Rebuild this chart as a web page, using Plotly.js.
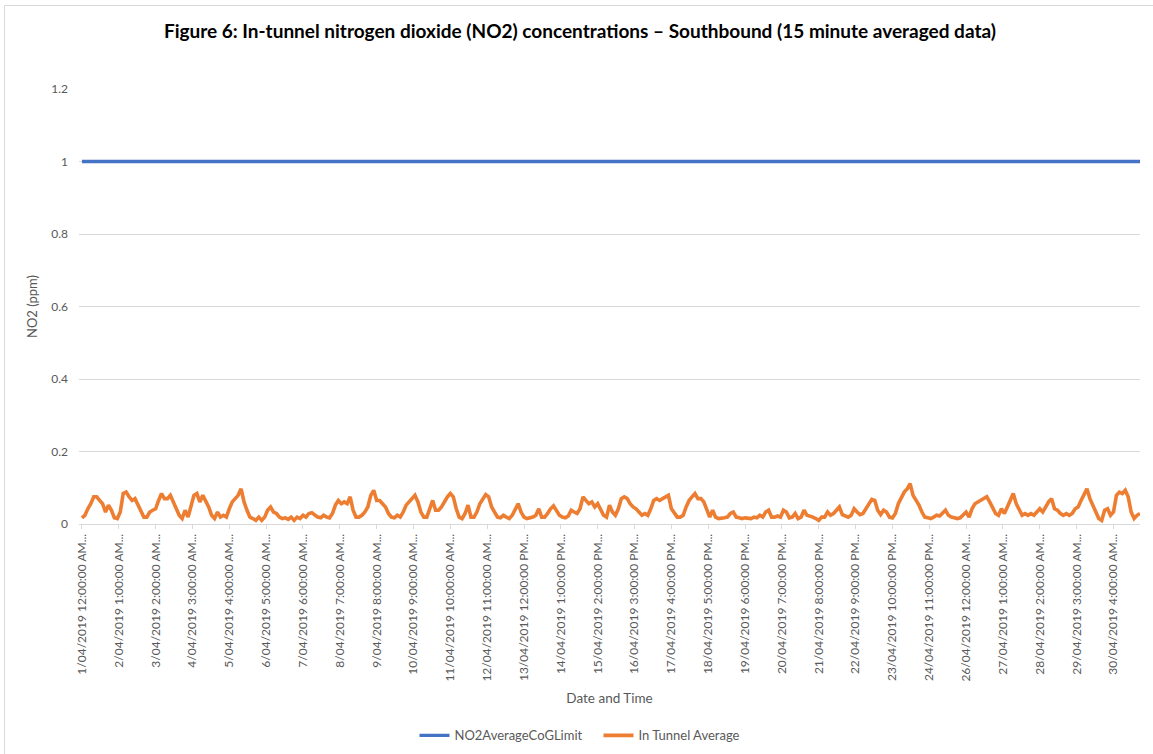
<!DOCTYPE html>
<html>
<head>
<meta charset="utf-8">
<script src="https://cdn.plot.ly/plotly-3.0.1.min.js"></script>
<style>
  html, body { margin: 0; padding: 0; background: #ffffff; }
  #wrap { position: relative; width: 1153px; height: 754px; overflow: hidden; }
  #frame { position: absolute; left: 4px; top: 5px; width: 1160px; height: 760px;
           border-left: 1px solid #d9d9d9; border-top: 1px solid #d9d9d9; pointer-events: none; z-index: 5; }
  #chart { position: absolute; left: 0; top: 0; width: 1153px; height: 754px; }
</style>
</head>
<body>
<div id="wrap">
  <div id="chart"></div>
  <div id="frame"></div>
</div>
<script>
// ---- Data (2-hourly samples) ----
const stepHours = 2;
const limitValue = 1;

const day01 = [0.017,0.024,0.042,0.056,0.075,0.075,0.065,0.056,0.033,0.052,0.038,0.017];
const day02 = [0.015,0.033,0.084,0.088,0.075,0.065,0.070,0.052,0.038,0.019,0.019,0.033];
const day03 = [0.038,0.042,0.065,0.084,0.070,0.070,0.079,0.061,0.042,0.024,0.015,0.038];
const day04 = [0.019,0.047,0.079,0.084,0.061,0.079,0.065,0.047,0.024,0.015,0.033,0.019];
const day05 = [0.024,0.019,0.042,0.061,0.070,0.079,0.097,0.061,0.038,0.019,0.015,0.010];
const day06 = [0.019,0.010,0.019,0.038,0.047,0.033,0.029,0.019,0.015,0.017,0.013,0.019];
const day07 = [0.010,0.019,0.015,0.024,0.019,0.029,0.031,0.026,0.019,0.017,0.024,0.019];
const day08 = [0.017,0.029,0.052,0.065,0.056,0.061,0.056,0.075,0.038,0.019,0.019,0.024];
const day09 = [0.033,0.047,0.079,0.093,0.065,0.065,0.056,0.047,0.029,0.019,0.017,0.024];
const day10 = [0.019,0.033,0.052,0.061,0.070,0.079,0.061,0.033,0.019,0.019,0.042,0.065];
const day11 = [0.038,0.038,0.047,0.061,0.075,0.084,0.075,0.042,0.019,0.015,0.029,0.052];
const day12 = [0.019,0.019,0.033,0.056,0.070,0.081,0.075,0.047,0.033,0.019,0.017,0.024];
const day13 = [0.019,0.015,0.024,0.038,0.056,0.033,0.019,0.015,0.017,0.019,0.024,0.042];
const day14 = [0.019,0.019,0.029,0.042,0.050,0.038,0.024,0.019,0.017,0.022,0.038,0.033];
const day15 = [0.029,0.042,0.075,0.065,0.056,0.061,0.047,0.056,0.042,0.024,0.019,0.052];
const day16 = [0.033,0.024,0.042,0.070,0.075,0.070,0.056,0.047,0.042,0.033,0.024,0.029];
const day17 = [0.024,0.042,0.065,0.070,0.065,0.070,0.075,0.079,0.042,0.029,0.019,0.019];
const day18 = [0.024,0.047,0.065,0.075,0.084,0.070,0.070,0.061,0.038,0.019,0.038,0.019];
const day19 = [0.015,0.015,0.017,0.019,0.029,0.033,0.019,0.017,0.015,0.017,0.017,0.015];
const day20 = [0.019,0.017,0.024,0.019,0.033,0.038,0.019,0.019,0.022,0.019,0.038,0.033];
const day21 = [0.017,0.019,0.029,0.015,0.019,0.038,0.024,0.022,0.019,0.015,0.010,0.019];
const day22 = [0.019,0.033,0.024,0.029,0.038,0.047,0.026,0.022,0.019,0.024,0.042,0.033];
const day23 = [0.026,0.029,0.042,0.056,0.068,0.065,0.038,0.026,0.038,0.033,0.019,0.017];
const day24 = [0.029,0.056,0.070,0.088,0.097,0.111,0.079,0.065,0.052,0.033,0.019,0.017];
const day25 = [0.015,0.019,0.024,0.022,0.029,0.038,0.024,0.019,0.017,0.015,0.017,0.024];
const day26 = [0.033,0.019,0.042,0.056,0.061,0.065,0.070,0.075,0.061,0.042,0.029,0.024];
const day27 = [0.042,0.029,0.047,0.070,0.084,0.056,0.038,0.024,0.029,0.024,0.029,0.024];
const day28 = [0.033,0.042,0.033,0.047,0.061,0.070,0.042,0.038,0.029,0.024,0.029,0.024];
const day29 = [0.029,0.042,0.047,0.065,0.084,0.097,0.070,0.052,0.033,0.015,0.010,0.038];
const day30 = [0.042,0.024,0.033,0.079,0.088,0.084,0.093,0.075,0.033,0.015,0.024,0.029];

const tickHours = [0,25,50,75,100,125,150,175,200,225,250,275,300,325,350,375,400,425,450,475,500,525,550,575,600,625,650,675,700];
const tickLabels = [
  "1/04/2019 12:00:00 AM...", "2/04/2019 1:00:00 AM...", "3/04/2019 2:00:00 AM...",
  "4/04/2019 3:00:00 AM...", "5/04/2019 4:00:00 AM...", "6/04/2019 5:00:00 AM...",
  "7/04/2019 6:00:00 AM...", "8/04/2019 7:00:00 AM...", "9/04/2019 8:00:00 AM...",
  "10/04/2019 9:00:00 AM...", "11/04/2019 10:00:00 AM...", "12/04/2019 11:00:00 AM...",
  "13/04/2019 12:00:00 PM...", "14/04/2019 1:00:00 PM...", "15/04/2019 2:00:00 PM...",
  "16/04/2019 3:00:00 PM...", "17/04/2019 4:00:00 PM...", "18/04/2019 5:00:00 PM...",
  "19/04/2019 6:00:00 PM...", "20/04/2019 7:00:00 PM...", "21/04/2019 8:00:00 PM...",
  "22/04/2019 9:00:00 PM...", "23/04/2019 10:00:00 PM...", "24/04/2019 11:00:00 PM...",
  "26/04/2019 12:00:00 AM...", "27/04/2019 1:00:00 AM...", "28/04/2019 2:00:00 AM...",
  "29/04/2019 3:00:00 AM...", "30/04/2019 4:00:00 AM..."
];
const yTicks = [0, 0.2, 0.4, 0.6, 0.8, 1, 1.2];

// ---- Build series ----
const inTunnel = [].concat(day01,day02,day03,day04,day05,day06,day07,day08,day09,day10,
  day11,day12,day13,day14,day15,day16,day17,day18,day19,day20,
  day21,day22,day23,day24,day25,day26,day27,day28,day29,day30);
const hours = inTunnel.map((_, i) => i * stepHours);
const limit = hours.map(() => limitValue);

const FONT = 'Lato, "Open Sans", sans-serif';
const GREY = '#595959';

const traces = [
  { x: hours, y: limit, type: 'scatter', mode: 'lines', name: 'NO2AverageCoGLimit',
    line: { color: '#4472C4', width: 3.3 } },
  { x: hours, y: inTunnel, type: 'scatter', mode: 'lines', name: 'In Tunnel Average',
    line: { color: '#ED7D31', width: 3.6 } }
];

const layout = {
  width: 1153, height: 754,
  margin: { l: 79, r: 13, t: 89, b: 230, autoexpand: false },
  paper_bgcolor: '#ffffff', plot_bgcolor: '#ffffff',
  font: { family: FONT, color: GREY, size: 12 },
  title: {
    text: '<b>Figure 6: In-tunnel nitrogen dioxide (NO2) concentrations – Southbound (15 minute averaged data)</b>',
    font: { family: FONT, size: 19, color: '#000000' },
    x: 0.503, xanchor: 'center', y: 0.958, yanchor: 'middle', yref: 'container'
  },
  xaxis: {
    type: 'linear', range: [-2, 718],
    tickmode: 'array', tickvals: tickHours, ticktext: tickLabels,
    tickangle: -90, tickfont: { family: FONT, size: 12, color: GREY },
    ticks: 'outside', ticklen: 4, tickcolor: '#d9d9d9',
    showgrid: false, zeroline: false,
    showline: true, linecolor: '#d9d9d9', linewidth: 1,
    title: { text: 'Date and Time', font: { family: FONT, size: 13.5, color: GREY }, standoff: 12 },
    automargin: false
  },
  yaxis: {
    range: [0, 1.2], tickmode: 'array', tickvals: yTicks,
    ticktext: yTicks.map(String),
    tickfont: { family: FONT, size: 12, color: GREY },
    showgrid: true, gridcolor: '#d9d9d9', gridwidth: 1,
    zeroline: false, showline: false, ticks: '',
    ticklabelstandoff: 10,
    title: { text: 'NO2 (ppm)', font: { family: FONT, size: 13, color: GREY }, standoff: 10 },
    automargin: false
  },
  showlegend: true,
  legend: {
    orientation: 'h', x: 0.3162, xanchor: 'left', y: -0.486, yanchor: 'middle',
    font: { family: FONT, size: 13, color: GREY }, itemwidth: 30,
    entrywidth: 139, entrywidthmode: 'pixels',
    traceorder: 'normal'
  }
};

Plotly.newPlot('chart', traces, layout, { displayModeBar: false, staticPlot: true });
</script>
</body>
</html>
